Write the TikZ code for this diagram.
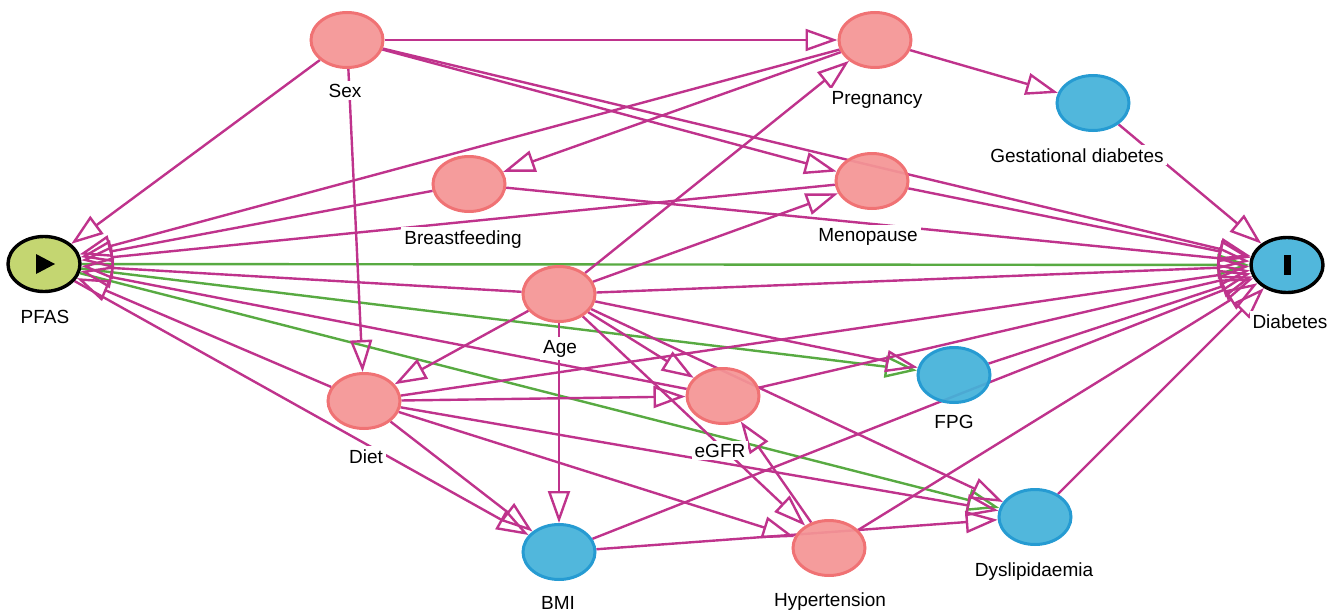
\documentclass[tikz,border=0pt]{standalone}
\usepackage{fontspec}
\setmainfont{Liberation Sans}
\usetikzlibrary{arrows.meta,shapes.geometric}
\definecolor{pinkfill}{HTML}{F49595}
\definecolor{pinkline}{HTML}{F07274}
\definecolor{bluefill}{HTML}{44B2D9}
\definecolor{blueline}{HTML}{269BD2}
\definecolor{expofill}{HTML}{BFD366}
\definecolor{biasline}{HTML}{BF338C}
\definecolor{causalline}{HTML}{58AA42}
\pgfdeclarelayer{edges}
\pgfsetlayers{edges,main}
\begin{document}
\begin{tikzpicture}[x=1pt,y=-1pt,
  var/.style={draw, ellipse, minimum width=72pt, minimum height=55pt, inner sep=0pt, line width=3pt, fill opacity=0.93},
  covar/.style={var, draw=pinkline, fill=pinkfill},
  medi/.style={var, draw=blueline, fill=bluefill},
  expo/.style={var, draw=black, fill=expofill, line width=3.4pt},
  outc/.style={var, draw=black, fill=bluefill, line width=3.4pt},
  lbl/.style={fill=white, inner sep=3pt, anchor=base, font=\fontsize{19}{22}\selectfont},
  bias/.style={draw=biasline, line width=2.4pt, -{Triangle[open,length=32pt,width=22pt]}},
  causal/.style={bias, draw=causalline}]
  \useasboundingbox (0,0) rectangle (1336,613);
  % variables
  \node[covar] (sex) at (347,40) {};
  \node[covar] (preg) at (875,40) {};
  \node[medi] (gest) at (1093,103) {};
  \node[covar] (breast) at (469,184) {};
  \node[covar] (meno) at (872,181) {};
  \node[expo] (pfas) at (44,264) {};
  \node[outc] (diab) at (1287,265) {};
  \node[covar] (age) at (559,294) {};
  \node[medi] (fpg) at (954,375) {};
  \node[covar] (diet) at (364,401) {};
  \node[covar] (egfr) at (723,396) {};
  \node[medi] (bmi) at (559,552) {};
  \node[covar] (hyper) at (829,548) {};
  \node[medi] (dysl) at (1035,517) {};
  \fill ([shift={(-8,-10)}]pfas.center) -- ++(0,20) -- ++(19,-10) -- cycle;
  \fill ([shift={(-3.5,-10)}]diab.center) rectangle ++(7,20);
  % arrows
  \begin{pgfonlayer}{edges}
    \foreach \a/\b in {pfas/diab, pfas/fpg, pfas/dysl}
      \draw[causal] (\a) -- (\b);
    \foreach \a/\b in {sex/pfas, sex/preg, sex/meno, sex/diab, sex/diet,
        preg/gest, preg/breast, preg/pfas, gest/diab,
        breast/pfas, breast/diab, meno/pfas, meno/diab,
        age/pfas, age/preg, age/meno, age/diab, age/diet, age/bmi,
        age/egfr, age/hyper, age/dysl, age/fpg,
        diet/pfas, diet/egfr, diet/diab, diet/bmi, diet/hyper, diet/dysl,
        egfr/pfas, egfr/diab, hyper/egfr, hyper/diab,
        bmi/diab, bmi/dysl, fpg/diab, dysl/diab, pfas/bmi}
      \draw[bias] (\a) -- (\b);
  \end{pgfonlayer}
  % labels
  \node[lbl] (sexl) at (345,97) {Sex};
  \node[lbl] (pregl) at (877,104) {Pregnancy};
  \node[lbl] (gestl) at (1077,162) {Gestational diabetes};
  \node[lbl] (breastl) at (463,244) {Breastfeeding};
  \node[lbl] (menol) at (868,241) {Menopause};
  \node[lbl] (pfasl) at (45,323) {PFAS};
  \node[lbl] (diabl) at (1290,328) {Diabetes};
  \node[lbl] (agel) at (560,353) {Age};
  \node[lbl] (fpgl) at (954,428) {FPG};
  \node[lbl] (dietl) at (366,463) {Diet};
  \node[lbl] (egfrl) at (720,457) {eGFR};
  \node[lbl] (bmil) at (558,609) {BMI};
  \node[lbl] (hyperl) at (830,606) {Hypertension};
  \node[lbl] (dysll) at (1034,576) {Dyslipidaemia};
\end{tikzpicture}
\end{document}
